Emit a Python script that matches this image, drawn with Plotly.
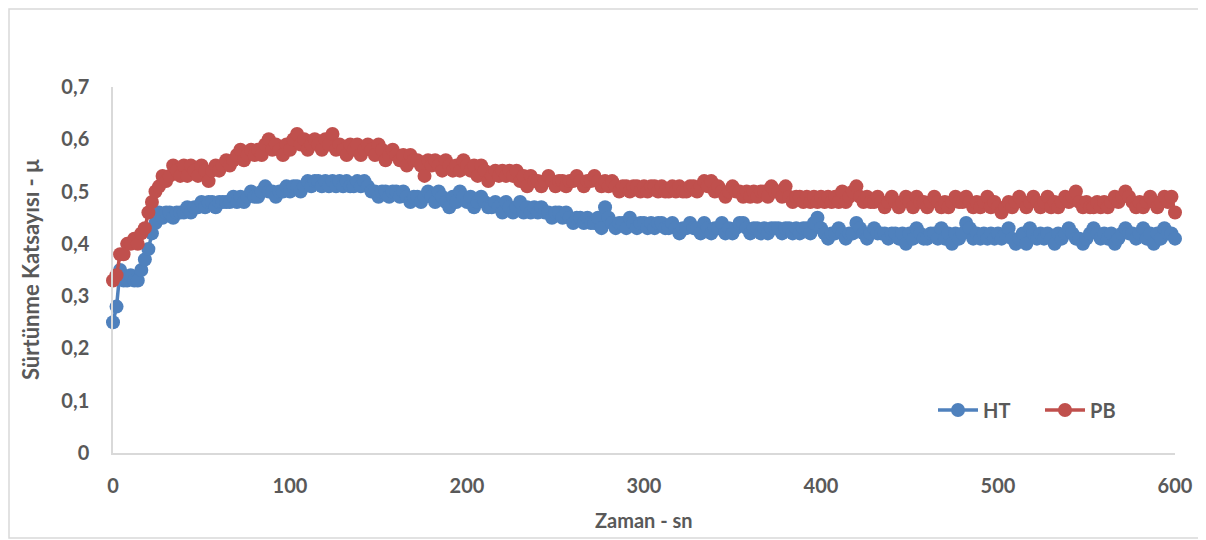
import plotly.graph_objects as go

# Time (s)
zaman = list(range(0, 601, 2))

# HT series – friction coefficient
ht = [
    0.25,0.28,0.35,0.33,0.33,0.34,0.33,0.33,0.35,0.37,
    0.39,0.42,0.44,0.46,0.45,0.46,0.46,0.45,0.46,0.46,
    0.46,0.47,0.46,0.47,0.47,0.48,0.47,0.48,0.48,0.47,
    0.48,0.48,0.48,0.48,0.49,0.48,0.49,0.48,0.49,0.50,
    0.49,0.49,0.50,0.51,0.50,0.50,0.49,0.50,0.50,0.51,
    0.50,0.51,0.51,0.50,0.51,0.52,0.51,0.52,0.52,0.51,
    0.52,0.51,0.52,0.51,0.52,0.51,0.52,0.51,0.51,0.52,
    0.51,0.52,0.51,0.50,0.50,0.49,0.50,0.50,0.49,0.50,
    0.50,0.49,0.50,0.49,0.48,0.49,0.49,0.48,0.49,0.50,
    0.49,0.48,0.50,0.49,0.48,0.47,0.49,0.48,0.50,0.49,
    0.48,0.49,0.47,0.48,0.49,0.48,0.47,0.47,0.48,0.47,
    0.46,0.48,0.47,0.46,0.47,0.48,0.46,0.47,0.46,0.47,
    0.46,0.47,0.46,0.46,0.45,0.46,0.46,0.45,0.46,0.45,
    0.44,0.45,0.45,0.44,0.45,0.44,0.44,0.45,0.43,0.47,
    0.45,0.44,0.43,0.44,0.44,0.43,0.45,0.44,0.43,0.44,
    0.44,0.43,0.44,0.43,0.44,0.44,0.43,0.43,0.44,0.43,
    0.42,0.43,0.43,0.44,0.43,0.43,0.42,0.44,0.43,0.42,
    0.43,0.43,0.44,0.42,0.43,0.42,0.43,0.44,0.44,0.43,
    0.42,0.43,0.43,0.42,0.43,0.42,0.43,0.43,0.43,0.42,
    0.43,0.43,0.42,0.43,0.42,0.43,0.43,0.42,0.44,0.45,
    0.43,0.42,0.41,0.42,0.42,0.43,0.42,0.41,0.42,0.42,
    0.44,0.43,0.42,0.41,0.42,0.43,0.42,0.42,0.42,0.41,
    0.42,0.42,0.41,0.42,0.40,0.42,0.41,0.43,0.42,0.41,
    0.41,0.42,0.42,0.41,0.43,0.41,0.42,0.40,0.42,0.41,
    0.42,0.44,0.43,0.41,0.42,0.41,0.42,0.41,0.42,0.41,
    0.42,0.41,0.42,0.43,0.41,0.40,0.41,0.42,0.40,0.43,
    0.42,0.41,0.42,0.41,0.42,0.41,0.40,0.42,0.41,0.42,
    0.43,0.42,0.41,0.41,0.40,0.41,0.42,0.43,0.42,0.41,
    0.42,0.41,0.42,0.40,0.41,0.42,0.43,0.42,0.42,0.41,
    0.42,0.43,0.41,0.42,0.40,0.42,0.41,0.43,0.42,0.42,
    0.41,
]

# PB series – friction coefficient
pb = [
    0.33,0.34,0.38,0.38,0.40,0.40,0.41,0.40,0.42,0.43,
    0.46,0.48,0.50,0.51,0.53,0.52,0.53,0.55,0.54,0.53,
    0.55,0.53,0.55,0.54,0.53,0.55,0.54,0.52,0.54,0.55,
    0.54,0.55,0.56,0.55,0.56,0.57,0.58,0.56,0.57,0.58,
    0.57,0.58,0.57,0.59,0.60,0.58,0.59,0.58,0.57,0.59,
    0.58,0.60,0.61,0.59,0.60,0.58,0.59,0.60,0.59,0.58,
    0.60,0.59,0.61,0.58,0.59,0.58,0.57,0.59,0.58,0.59,
    0.57,0.58,0.59,0.58,0.57,0.59,0.58,0.56,0.57,0.58,
    0.57,0.56,0.57,0.55,0.57,0.56,0.56,0.55,0.53,0.56,
    0.55,0.56,0.55,0.54,0.56,0.55,0.54,0.55,0.54,0.56,
    0.55,0.54,0.55,0.53,0.55,0.54,0.52,0.53,0.54,0.53,
    0.54,0.53,0.54,0.53,0.54,0.52,0.53,0.51,0.53,0.52,
    0.52,0.51,0.52,0.53,0.52,0.51,0.52,0.52,0.51,0.52,
    0.52,0.53,0.52,0.51,0.52,0.52,0.53,0.52,0.51,0.52,
    0.51,0.52,0.51,0.50,0.51,0.51,0.50,0.51,0.51,0.50,
    0.51,0.50,0.51,0.51,0.50,0.51,0.50,0.50,0.51,0.50,
    0.51,0.50,0.50,0.51,0.51,0.50,0.51,0.52,0.51,0.52,
    0.50,0.51,0.50,0.49,0.50,0.51,0.50,0.50,0.49,0.50,
    0.49,0.50,0.49,0.50,0.50,0.49,0.51,0.50,0.50,0.49,
    0.51,0.49,0.48,0.49,0.49,0.48,0.49,0.48,0.49,0.48,
    0.49,0.48,0.49,0.48,0.49,0.48,0.50,0.48,0.49,0.50,
    0.51,0.49,0.48,0.49,0.48,0.48,0.49,0.48,0.47,0.48,
    0.49,0.48,0.47,0.48,0.49,0.48,0.47,0.49,0.48,0.48,
    0.47,0.48,0.49,0.48,0.47,0.48,0.47,0.48,0.49,0.48,
    0.48,0.49,0.48,0.47,0.48,0.47,0.48,0.49,0.47,0.48,
    0.47,0.46,0.47,0.48,0.47,0.48,0.49,0.48,0.47,0.48,
    0.49,0.48,0.47,0.48,0.49,0.47,0.48,0.47,0.48,0.49,
    0.48,0.49,0.50,0.48,0.47,0.48,0.47,0.47,0.48,0.47,
    0.48,0.47,0.48,0.49,0.48,0.49,0.50,0.49,0.48,0.47,
    0.48,0.47,0.48,0.49,0.48,0.47,0.48,0.49,0.48,0.49,
    0.46,
]

y_tickvals = [0, 0.1, 0.2, 0.3, 0.4, 0.5, 0.6, 0.7]
y_ticktext = ["0", "0,1", "0,2", "0,3", "0,4", "0,5", "0,6", "0,7"]
x_tickvals = [0, 100, 200, 300, 400, 500, 600]

BLUE = "#4F81BD"
RED = "#C0504D"
TXT = "#595959"
FONT = "Lato"

fig = go.Figure()
fig.add_trace(go.Scatter(
    x=zaman, y=ht, name="HT", mode="lines+markers",
    line=dict(color=BLUE, width=3.5),
    marker=dict(color=BLUE, size=14, symbol="circle"),
    cliponaxis=False,
))
fig.add_trace(go.Scatter(
    x=zaman, y=pb, name="PB", mode="lines+markers",
    line=dict(color=RED, width=3.5),
    marker=dict(color=RED, size=14, symbol="circle"),
    cliponaxis=False,
))

# The page body has an 8px default margin: the figure starts at page (8, 8).
OFF = 8
W, H = 1206 - OFF, 540 - OFF
# Plot area in page pixels: x 113..1175, y 87..453
L, R, T, B = 113 - OFF, 1206 - 1175, 87 - OFF, 540 - 453
pw, ph = W - L - R, H - T - B

def px(x):  # page x -> paper
    return (x - OFF - L) / pw

def py(y):  # page y -> paper
    return (H - B - (y - OFF)) / ph

fig.update_layout(
    width=W, height=H,
    margin=dict(l=L, r=R, t=T, b=B),
    paper_bgcolor="white", plot_bgcolor="white",
    font=dict(family=FONT, color=TXT, size=20),
    showlegend=True,
    legend=dict(
        orientation="h", x=px(933), y=py(410), xanchor="left", yanchor="middle",
        font=dict(family=FONT, size=20, color=TXT, weight="bold"),
        bgcolor="rgba(0,0,0,0)", itemwidth=40, entrywidth=52, tracegroupgap=0,
    ),
    xaxis=dict(
        range=[0, 600], tickvals=x_tickvals, ticktext=[str(v) for v in x_tickvals],
        showgrid=False, zeroline=False, showline=True, linecolor="#D9D9D9", linewidth=1.5,
        ticks="", ticklabelstandoff=14,
        tickfont=dict(family=FONT, size=20, color=TXT, weight="bold"),
    ),
    yaxis=dict(
        range=[0, 0.7], tickvals=y_tickvals, ticktext=y_ticktext,
        showgrid=False, zeroline=False, showline=True, linecolor="#D9D9D9", linewidth=1.5,
        ticks="", ticklabelstandoff=18,
        tickfont=dict(family=FONT, size=20, color=TXT, weight="bold"),
    ),
    annotations=[
        dict(text="Zaman - sn", xref="paper", yref="paper", x=px(644), y=py(520),
             xanchor="center", yanchor="middle", showarrow=False,
             font=dict(family=FONT, size=20, color=TXT, weight="bold")),
        dict(text="Sürtünme Katsayısı - μ", xref="paper", yref="paper", x=px(30), y=py(270),
             xanchor="center", yanchor="middle", showarrow=False, textangle=-90,
             font=dict(family=FONT, size=22, color=TXT, weight="bold")),
    ],
    shapes=[
        dict(type="rect", xref="paper", yref="paper", x0=px(9), x1=px(1202), y0=py(538), y1=py(9),
             line=dict(color="#D9D9D9", width=1.5), fillcolor="rgba(0,0,0,0)", layer="below"),
    ],
)

fig.write_html("out.html", config={"displayModeBar": False})
